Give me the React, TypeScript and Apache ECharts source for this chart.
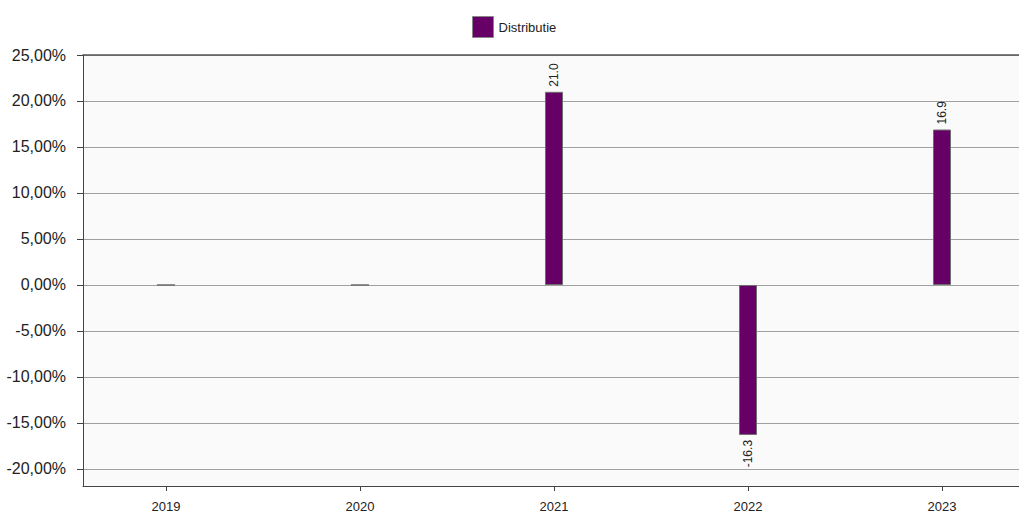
import React, { useEffect, useRef } from "react";
import * as echarts from "echarts";

// Yearly distribution figures (percent)
const years = ["2019", "2020", "2021", "2022", "2023"];
const distributie = [0, 0, 21.0, -16.3, 16.9];
const yTicks = [-20, -15, -10, -5, 0, 5, 10, 15, 20, 25];
const seriesName = "Distributie";

const FONT = "'Liberation Sans', Arial, sans-serif";

export default function App() {
  const ref = useRef<HTMLDivElement>(null);

  useEffect(() => {
    if (!ref.current) return;
    const chart = echarts.init(ref.current, null, { renderer: "svg" });
    const xIdx = years.map((_, i) => i);
    const data = distributie.map((v, i) => ({
      value: [i, v],
      label:
        v === 0
          ? { show: false }
          : v < 0
          ? { show: true, position: "bottom", align: "right" }
          : { show: true, position: "top", align: "left" },
    }));

    chart.setOption({
      animation: false,
      textStyle: { fontFamily: FONT },
      legend: {
        top: 11,
        left: 467,
        itemWidth: 21,
        itemHeight: 21,
        itemGap: 10,
        icon: "rect",
        itemStyle: { color: "#660066", borderColor: "#888", borderWidth: 1 },
        textStyle: { fontSize: 13, color: "#222", fontFamily: FONT },
        data: [seriesName],
      },
      grid: {
        left: 83,
        right: 0,
        top: 55,
        bottom: 31,
        show: true,
        backgroundColor: "#fafafa",
        borderWidth: 0,
      },
      xAxis: [
        {
          type: "value",
          min: -0.4278,
          max: 4.397,
          position: "bottom",
          axisLine: { show: true, onZero: false, lineStyle: { color: "#444", width: 1 } },
          axisTick: {
            show: true,
            length: 5,
            customValues: xIdx,
            lineStyle: { color: "#444" },
          },
          axisLabel: {
            customValues: xIdx,
            margin: 14,
            fontSize: 13,
            color: "#222",
            fontFamily: FONT,
            formatter: (v: number) => years[Math.round(v)] ?? "",
          },
          splitLine: { show: false },
        },
        {
          type: "value",
          min: -0.4278,
          max: 4.397,
          position: "top",
          axisLine: { show: true, onZero: false, lineStyle: { color: "#555", width: 1.5 } },
          axisTick: { show: false },
          axisLabel: { show: false },
          splitLine: { show: false },
        },
      ],
      yAxis: {
        type: "value",
        min: -21.85,
        max: 25,
        axisLine: { show: true, onZero: false, lineStyle: { color: "#444", width: 1 } },
        axisTick: {
          show: true,
          length: 6,
          customValues: yTicks,
          lineStyle: { color: "#444" },
        },
        axisLabel: {
          customValues: yTicks,
          margin: 17,
          fontSize: 16,
          color: "#222",
          fontFamily: FONT,
          formatter: (v: number) => v.toFixed(2).replace(".", ",") + "%",
        },
        splitLine: { show: true, lineStyle: { color: "#a0a0a0", width: 1 } },
      },
      series: [
        {
          name: seriesName,
          type: "bar",
          xAxisIndex: 0,
          barWidth: 18,
          data,
          itemStyle: { color: "#660066", borderColor: "#6e6e6e", borderWidth: 1 },
          label: {
            rotate: 90,
            verticalAlign: "middle",
            distance: 5,
            fontSize: 12,
            color: "#222",
            fontFamily: FONT,
            formatter: (p: any) => Number(p.value[1]).toFixed(1),
          },
        },
      ],
    });

    return () => chart.dispose();
  }, []);

  return (
    <div
      ref={ref}
      style={{ position: "absolute", left: 0, top: 0, width: 1019, height: 517, background: "#fff" }}
    />
  );
}
